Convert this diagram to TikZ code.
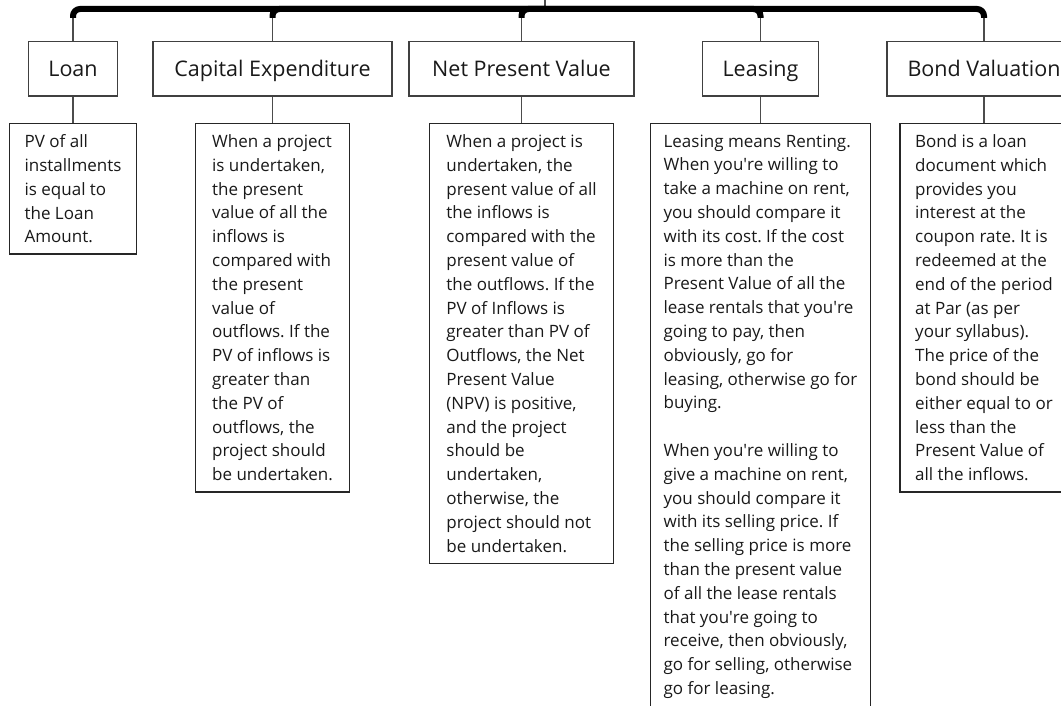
\documentclass[tikz,border=0pt]{standalone}
\usepackage{fontspec}
\setmainfont{Open Sans}
\usetikzlibrary{positioning}
\newcommand\ap{\textquotesingle}
\frenchspacing

\begin{document}
\begin{tikzpicture}[x=1pt, y=-1pt,
    head/.style={draw=black!75, line width=1.1pt, minimum height=54.5pt, inner sep=0pt, text height=19pt, text depth=3.5pt, text=black!90, font=\fontsize{21.5}{25}\selectfont},
    desc/.style={draw=black!85, line width=1.3pt, anchor=north, align=left, inner xsep=0pt, inner ysep=11pt, text=black!90, font=\fontsize{17}{23.8}\selectfont},
    trunk/.style={line width=6pt, rounded corners=7pt},
    stem/.style={draw=black!70, line width=1.3pt}]

    \useasboundingbox (0, 0) rectangle (1061, 706);

    % Headings
    \node at (73, 68.75) [head, minimum width=89pt] (loan) {Loan};
    \node at (272.5, 68.75) [head, minimum width=239pt] (capex) {Capital Expenditure};
    \node at (521.5, 68.75) [head, minimum width=225pt] (npv) {Net Present Value};
    \node at (760.5, 68.75) [head, minimum width=116pt] (lease) {Leasing};
    \node at (984, 68.75) [head, minimum width=194pt] (bond) {Bond Valuation};

    % Descriptions
    \node at (73, 123) [desc, minimum width=127pt] (loand) {PV of all\\ installments\\ is equal to\\ the Loan\\ Amount.};
    \node at (272.5, 123) [desc, minimum width=154pt] (capexd) {When a project\\ is undertaken,\\ the present\\ value of all the\\ inflows is\\ compared with\\ the present\\ value of\\ outflows. If the\\ PV of inflows is\\ greater than\\ the PV of\\ outflows, the\\ project should\\ be undertaken.};
    \node at (521.5, 123) [desc, minimum width=184pt] (npvd) {When a project is\\ undertaken, the\\ present value of all\\ the inflows is\\ compared with the\\ present value of\\ the outflows. If the\\ PV of Inflows is\\ greater than PV of\\ Outflows, the Net\\ Present Value\\ (NPV) is positive,\\ and the project\\ should be\\ undertaken,\\ otherwise, the\\ project should not\\ be undertaken.};
    \node at (760.5, 123) [desc, minimum width=220pt] (leased) {Leasing means Renting.\\ When you\ap re willing to\\ take a machine on rent,\\ you should compare it\\ with its cost. If the cost\\ is more than the\\ Present Value of all the\\ lease rentals that you\ap re\\ going to pay, then\\ obviously, go for\\ leasing, otherwise go for\\ buying.\\[23.8pt] When you\ap re willing to\\ give a machine on rent,\\ you should compare it\\ with its selling price. If\\ the selling price is more\\ than the present value\\ of all the lease rentals\\ that you\ap re going to\\ receive, then obviously,\\ go for selling, otherwise\\ go for leasing.\rule[-14pt]{0pt}{14pt}};
    \node at (984, 123) [desc, minimum width=168pt] (bondd) {Bond is a loan\\ document which\\ provides you\\ interest at the\\ coupon rate. It is\\ redeemed at the\\ end of the period\\ at Par (as per\\ your syllabus).\\ The price of the\\ bond should be\\ either equal to or\\ less than the\\ Present Value of\\ all the inflows.};

    % Tree
    \coordinate (top) at (545, 0);
    \coordinate (hub) at (545, 9);
    \coordinate (knee) at (545, 18);
    \draw[stem] (top) -- (hub);
    \foreach \t in {loan, capex, npv, lease, bond} {
        \draw[trunk] (hub) -| (\t.north |- knee);
        \draw[stem] (\t.north |- knee) -- (\t.north);
        \draw[stem] (\t.south) -- (\t d.north);
    }
\end{tikzpicture}
\end{document}
